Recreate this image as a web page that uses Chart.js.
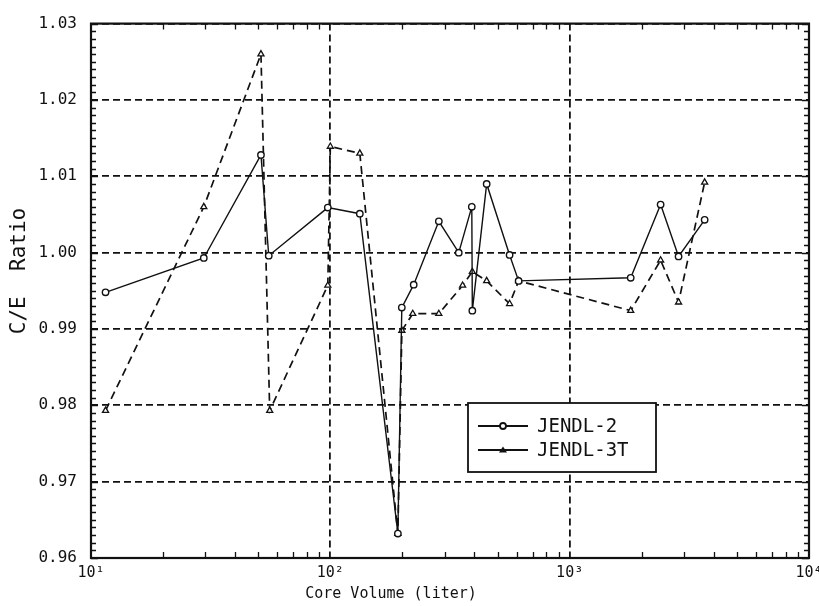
<!DOCTYPE html>
<html>
<head>
<meta charset="utf-8">
<title>C/E Ratio vs Core Volume</title>
<script src="https://cdn.jsdelivr.net/npm/chart.js@4.4.1/dist/chart.umd.min.js"></script>
<style>
  html, body { margin: 0; padding: 0; background: #fff; }
  #wrap { width: 819px; height: 606px; }
</style>
</head>
<body>
<div id="wrap"><canvas id="chart" width="819" height="606"></canvas></div>
<script>
// values
const volumeJ2 = [11.5, 29.6, 51.3, 55.3, 97.6, 132.8, 191.5, 198.9, 223, 284, 344, 390, 392, 450, 561, 612, 1799, 2399, 2851, 3664];
const ratioJ2 = [0.9948, 0.9993, 1.0128, 0.9996, 1.0059, 1.0051, 0.9632, 0.9928, 0.9958, 1.0041, 1.0000, 1.0060, 0.9924, 1.0090, 0.9997, 0.9963, 0.9967, 1.0063, 0.9995, 1.0043];
const volume3T = [11.5, 29.6, 51.3, 55.8, 97.6, 100, 132.8, 191.5, 199, 221, 284, 357, 392, 450, 561, 612, 1799, 2399, 2851, 3664];
const ratio3T = [0.9793, 1.0060, 1.0260, 0.9793, 0.9957, 1.0139, 1.0130, 0.9632, 0.9898, 0.9920, 0.9920, 0.9957, 0.9975, 0.9963, 0.9933, 0.9963, 0.9924, 0.9990, 0.9935, 1.0092];
const seriesNames = ['JENDL-2', 'JENDL-3T'];
const xTitle = 'Core Volume (liter)';
const yTitle = 'C/E  Ratio';
const superscripts = ['\u2070', '\u00b9', '\u00b2', '\u00b3', '\u2074'];

const ink = '#111';
const mono = "'DejaVu Sans Mono', 'Liberation Mono', monospace";

function isDecade(v) {
    const l = Math.log10(v);
    return Math.abs(l - Math.round(l)) < 1e-9;
}

// frame, inward minor ticks, axis titles and the boxed legend
const paperPlugin = {
    id: 'paper',
    beforeDraw(chart) {
        const c = chart.ctx;
        c.save();
        c.fillStyle = '#fff';
        c.fillRect(0, 0, chart.width, chart.height);
        c.restore();
    },
    afterDraw(chart) {
        const c = chart.ctx;
        const a = chart.chartArea;
        const xs = chart.scales.x;
        const ys = chart.scales.y;
        c.save();
        c.strokeStyle = ink;
        c.lineWidth = 1.3;
        c.beginPath();
        for (let i = 0; i <= 70; i++) {
            const py = Math.round(ys.getPixelForValue(0.96 + i / 1000)) + 0.5;
            const len = (i % 10 === 0) ? 7 : 5;
            c.moveTo(a.left, py); c.lineTo(a.left + len, py);
            c.moveTo(a.right, py); c.lineTo(a.right - len, py);
        }
        [10, 100, 1000].forEach(d => {
            for (let k = 2; k <= 9; k++) {
                const px = Math.round(xs.getPixelForValue(k * d)) + 0.5;
                c.moveTo(px, a.bottom); c.lineTo(px, a.bottom - 6);
                c.moveTo(px, a.top); c.lineTo(px, a.top + 6);
            }
        });
        c.stroke();

        c.lineWidth = 2.2;
        c.strokeRect(a.left, a.top, a.right - a.left, a.bottom - a.top);

        // axis titles
        c.fillStyle = ink;
        c.font = '15px ' + mono;
        c.textAlign = 'center';
        c.textBaseline = 'middle';
        c.fillText(xTitle, 391, 594);
        c.translate(20, 271);
        c.rotate(-Math.PI / 2);
        c.font = '21px ' + mono;
        c.fillText(yTitle, 0, 0);
        c.restore();

        // legend box
        c.save();
        const bx = 468, by = 403, bw = 188, bh = 69;
        c.fillStyle = '#fff';
        c.fillRect(bx, by, bw, bh);
        c.strokeStyle = ink;
        c.lineWidth = 1.8;
        c.strokeRect(bx, by, bw, bh);
        const rows = [426, 450];
        chart.data.datasets.forEach((ds, i) => {
            const y = rows[i];
            c.lineWidth = 1.8;
            c.setLineDash([]);
            c.beginPath();
            c.moveTo(478, y); c.lineTo(528, y);
            c.stroke();
            c.beginPath();
            if (i === 0) {
                c.arc(503, y, 3, 0, Math.PI * 2);
                c.fillStyle = '#fff';
                c.fill();
                c.stroke();
            } else {
                c.moveTo(503, y - 3.5); c.lineTo(507, y + 2.5); c.lineTo(499, y + 2.5); c.closePath();
                c.fillStyle = ink;
                c.fill();
            }
            c.fillStyle = ink;
            c.font = '19px ' + mono;
            c.textAlign = 'left';
            c.textBaseline = 'middle';
            c.fillText(ds.label, 537, y + 1);
        });
        c.restore();
    }
};

const ctx = document.getElementById('chart').getContext('2d');
const chart = new Chart(ctx, {
    type: 'line',
    data: {
        datasets: [{
            label: seriesNames[0],
            data: volumeJ2.map((v, i) => ({ x: v, y: ratioJ2[i] })),
            borderColor: ink,
            borderWidth: 1.4,
            pointStyle: 'circle',
            pointRadius: 3.2,
            pointBorderWidth: 1.4,
            pointBackgroundColor: '#fff',
            pointBorderColor: ink,
            tension: 0
        }, {
            label: seriesNames[1],
            data: volume3T.map((v, i) => ({ x: v, y: ratio3T[i] })),
            borderColor: ink,
            borderWidth: 1.7,
            borderDash: [8, 5],
            pointStyle: 'triangle',
            pointRadius: 3.5,
            pointBorderWidth: 1.3,
            pointBackgroundColor: '#fff',
            pointBorderColor: ink,
            tension: 0
        }]
    },
    options: {
        responsive: false,
        animation: false,
        layout: { padding: { top: 23, right: 10, left: 0, bottom: 0 } },
        plugins: {
            legend: { display: false },
            tooltip: { enabled: false }
        },
        scales: {
            x: {
                type: 'logarithmic',
                min: 10,
                max: 10000,
                border: { display: false, dash: [7, 4] },
                grid: {
                    drawTicks: false,
                    lineWidth: 1.8,
                    color: c => (c.tick && isDecade(c.tick.value) && c.tick.value > 10 && c.tick.value < 10000) ? ink : 'transparent'
                },
                ticks: {
                    autoSkip: false,
                    maxRotation: 0,
                    padding: 6,
                    color: ink,
                    font: { family: mono, size: 15 },
                    callback: v => isDecade(v) ? '10' + superscripts[Math.round(Math.log10(v))] : ''
                },
                afterFit: s => { s.height = 48; s.paddingLeft = 0; s.paddingRight = 0; }
            },
            y: {
                min: 0.96,
                max: 1.03,
                border: { display: false, dash: [7, 4] },
                grid: {
                    drawTicks: false,
                    lineWidth: 1.8,
                    color: ink
                },
                ticks: {
                    stepSize: 0.01,
                    padding: 14,
                    color: ink,
                    font: { family: mono, size: 16 },
                    callback: v => v.toFixed(2)
                },
                afterFit: s => { s.width = 91; }
            }
        }
    },
    plugins: [paperPlugin]
});
</script>
</body>
</html>
